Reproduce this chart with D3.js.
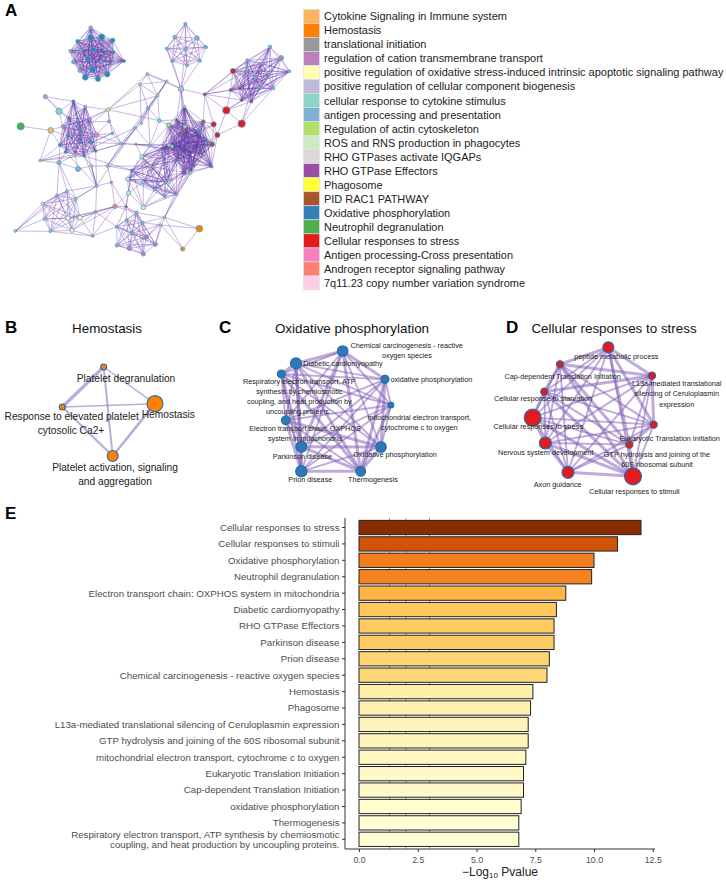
<!DOCTYPE html>
<html><head><meta charset="utf-8">
<script src="https://cdn.jsdelivr.net/npm/d3@7"></script>
<style>html,body{margin:0;padding:0;background:#fff}svg{display:block}text{font-family:"Liberation Sans",Arial,sans-serif}</style>
</head><body><svg id="c" width="726" height="882"><defs><filter id="soft" x="-5%" y="-5%" width="110%" height="110%"><feGaussianBlur stdDeviation="0.35"/></filter></defs></svg>
<script>
// ---- Legend
const legendNames=["Cytokine Signaling in Immune system","Hemostasis","translational initiation","regulation of cation transmembrane transport","positive regulation of oxidative stress-induced intrinsic apoptotic signaling pathway","positive regulation of cellular component biogenesis","cellular response to cytokine stimulus","antigen processing and presentation","Regulation of actin cytoskeleton","ROS and RNS production in phagocytes","RHO GTPases activate IQGAPs","RHO GTPase Effectors","Phagosome","PID RAC1 PATHWAY","Oxidative phosphorylation","Neutrophil degranulation","Cellular responses to stress","Antigen processing-Cross presentation","Androgen receptor signaling pathway","7q11.23 copy number variation syndrome"];
const legendColors=["#fdb462","#ff7f00","#999999","#bc80bd","#ffffb3","#bebada","#8dd3c7","#80b1d3","#b3de69","#ccebc5","#d9d9d9","#984ea3","#ffff33","#a65628","#377eb8","#4daf4a","#e41a1c","#f781bf","#fb8072","#fccde5"];
// ---- Panel A network layout [x,y,radius,legend index]
const gTopLeft=[[272,83,1.8,7],[272,113,3,14],[305,111,3,14],[338,121,2.2,14],[233,124,1.8,14],[211,153,1.5,7],[243,151,1.5,7],[279,148,2.4,14],[314,148,1.5,7],[340,157,1.5,14],[220,186,1.8,7],[264,177,2.4,14],[304,183,1.5,7],[338,189,1.5,6],[372,183,1.5,14],[239,212,1.8,7],[278,209,3,14],[322,223,2.6,14],[294,237,2.5,14],[256,232,2.8,14]];
const gTopMid=[[556,72,1.6,7],[524,111,1.8,7],[591,114,2.2,7],[500,146,1.5,7],[556,148,1.6,7],[618,141,1.6,7],[517,183,1.5,7],[600,182,1.5,7],[561,196,1.5,7]];
const gTopRight=[[810,141,1.8,7],[843,174,2.5,2],[868,214,1.5,7],[742,181,1.6,7],[785,190,1.5,7],[740,213,1.5,7],[808,224,1.5,7],[765,232,1.5,7],[699,213,2.6,16],[720,265,1.6,16],[692,270,1.6,16],[725,300,1.5,16],[754,304,1.6,16],[782,263,1.4,7],[820,265,1.5,7],[748,290,1.3,7]];
const gLeft=[[220,304,1.5,14],[256,320,1.5,7],[207,355,1.8,11],[270,357,1.5,17],[188,379,1.5,17],[237,367,1.5,14],[290,405,2.4,17],[204,408,1.6,14],[243,395,1.5,14],[180,435,1.6,14],[240,427,1.5,14],[275,427,1.5,14],[197,456,1.4,14],[225,464,1.4,0],[253,468,1.4,14],[287,453,1.4,14]];
const gMidRight=[[553,320,1.4,8],[530,360,1.6,13],[506,375,2.2,8],[555,380,1.8,8],[610,365,1.8,13],[548,393,1.9,13],[596,393,1.6,14],[636,433,2.5,13],[568,441,2.8,11],[507,435,1.6,8],[516,439,1.6,8],[484,446,1.2,13],[608,441,1.5,13],[587,458,1.2,13],[613,462,1.3,8],[530,480,1.3,13],[578,494,2.6,11],[552,517,2.6,11],[572,518,1.6,8],[635,500,1.3,14],[600,400,1.4,14],[560,420,1.5,11],[620,420,1.3,14],[540,455,1.2,14]];
const gCentre=[[425,470,2,9],[451,499,1.4,8],[395,511,1.4,14],[383,537,2,9],[430,546,1.5,6],[464,568,1.4,7],[497,545,1.6,7],[508,545,1.4,9],[495,590,1.4,7],[529,583,1.4,7],[493,465,1.3,7]];
const gLowLeft=[[201,573,1.4,6],[171,586,1.4,7],[128,611,1.5,9],[228,596,1.4,8],[133,657,1.5,6],[204,654,2.3,4],[240,653,2.3,4],[151,694,1.4,6],[216,691,2.1,4]];
const gLowMid=[[410,638,1.6,7],[380,660,1.5,7],[350,680,1.4,7],[395,700,1.7,7],[428,668,1.5,7],[439,711,2.2,3],[466,733,2.1,3],[388,745,2.2,3],[351,736,1.8,7],[430,762,2.1,3]];
const gFree=[[543,267,2.7,5],[614,283,1.5,16],[442,222,1.4,8],[500,244,1.4,8],[420,253,1.4,8],[473,287,1.4,8],[324,329,1.8,12],[444,324,1.6,7],[327,364,1.4,7],[337,400,1.4,7],[405,384,1.4,6],[424,370,1.3,8],[478,362,1.9,6],[364,431,1.4,6],[408,433,1.2,1],[450,436,1.4,6],[136,290,2.1,17],[177,334,3.2,6],[62,379,3.6,15],[152,391,2.8,0],[120,482,1.3,8],[177,488,2.1,7],[234,507,2.5,7],[274,498,1.4,8],[322,498,1.4,8],[290,558,1.4,7],[334,547,1.3,18],[679,331,3.7,16],[725,371,3.7,16],[641,373,2.6,16],[652,405,2.6,16],[598,686,3.3,1],[548,747,2.1,1],[386,579,2.1,9],[430,622,2.3,9],[345,619,2.2,18],[378,620,1.3,13],[287,636,1.4,18],[278,708,1.3,18],[494,652,1.3,8],[482,675,1.3,8],[46,693,1.4,6]];
const networkGroups={a:gTopLeft,b:gTopMid,c:gTopRight,d:gLeft,e:gMidRight,g:gCentre,h:gLowLeft,i:gLowMid,f:gFree};
const clusterKeys=["a","b","c","d","e","g","h","i"];
const bridges="f0-f1 f0-f3 f0-f2 f0-b3 f0-b4 f0-b6 f0-b7 f0-b8 f0-e0 f0-e1 f0-e3 f0-e5 f1-c8 f1-c9 f1-c10 f1-c3 f1-c5 f1-c11 f1-f27 f1-f29 f1-e4 f27-f28 f27-c11 f27-c10 f27-c15 f27-c12 f28-c12 f28-c15 f28-c14 f28-f30 f27-f30 f29-f30 f29-e4 f29-e6 f29-e7 f30-e7 f30-e12 f30-e4 f29-e20 f30-e19 f2-f3 f2-f4 f2-f5 f2-f6 f3-f4 f3-f5 f3-f10 f3-f13 f3-f25 f4-f5 f4-f7 f4-f11 f5-f7 f5-f11 f6-f4 f6-f5 f6-f8 f6-f9 f6-f12 f6-d1 f6-d3 f6-d5 f6-d8 f7-f11 f7-f15 f7-f12 f12-f15 f12-e2 f12-e1 f12-f5 f15-e9 f15-e11 f15-f14 f13-f14 f13-f15 f13-d6 f13-d11 f13-d15 f13-f8 f13-f9 f13-f24 f14-e9 f14-e11 f14-g0 f15-g0 f15-g10 f10-f21 f10-f15 f10-f24 f11-f13 f8-d6 f9-d6 f9-d11 f16-d0 f16-f17 f16-d2 f17-d0 f17-d2 f17-d4 f18-f19 f19-d4 f19-d7 f19-d9 f19-f20 f20-f21 f20-d9 f20-d12 f20-d13 f20-d14 f21-d9 f21-d12 f21-f22 f21-h0 f21-h1 f21-h3 f22-d13 f22-f23 f23-d14 f23-f24 f23-f25 f24-g1 f24-g2 f24-f10 f25-d0 f25-d15 f25-d14 f25-d12 f25-f26 f25-h0 f25-h3 f25-f23 f26-f35 f26-f36 f26-f24 f25-f37 f33-g2 f33-g4 f33-f34 f33-f36 f33-f35 f33-g3 f34-g2 f34-g4 f34-g5 f34-g6 f34-g8 f34-g9 f34-g3 f35-f36 f35-f37 f35-h5 f35-h6 f35-h8 f35-f38 f36-i0 f36-i1 f36-i2 f37-f38 f37-h5 f37-h6 f37-h8 f37-i2 f38-h6 f38-h8 f38-h7 f38-i2 f41-h2 f41-h4 f41-h7 f41-h1 f41-h0 f39-i0 f39-i4 f39-i5 f39-i6 f40-i4 f40-i5 f40-i6 f40-i3 f39-f31 f40-f31 f31-f32 f32-f39 f32-f40 f39-g9 f39-e17 f39-e18 f36-g2 g0-e9 g0-e11 g0-e15 g1-e9 g1-e15 g1-e5 g6-e15 g6-e17 g6-e11 g7-e17 g7-e18 g9-e17 g9-e18 g4-e11 g10-e2 g10-e9 g10-e11 g10-e23 g10-e15 g5-e17 g6-e23 g3-e11 g2-e9 f36-i4 f35-i0 d15-f13 d11-f9 d5-f8 d14-g2 h3-f25 g0-e2 g0-e5 g0-e8 g0-e21 g1-e8 g1-e21 g1-e17 g1-e23 g2-e11 g2-e15 g3-e9 g3-e15 g4-e9 g4-e15 g4-e17 g5-e15 g5-e9 g6-e9 g6-e8 g6-e21 g7-e15 g7-e9 g7-e11 g8-e17 g9-e15 g9-e16 g10-e8 g10-e21 g10-e5 g4-e23 g5-e23 g8-e18".split(" ");
// ---- Panels B, C, D: layout units are crop pixels
const hemoNodes=[[311,171,3,""],[465,281,8,""],[187,291,3,""],[338,438,5.5,""]];
const hemoEdges=[[0,1,1.5],[0,2,3.4],[0,3,2],[1,2,1.5],[1,3,2.6],[2,3,2.2]];
const hemoLabels=[["Platelet degranulation",378,217],["Hemostasis",505,324],["Response to elevated platelet",215,329],["cytosolic Ca2+",213,373],["Platelet activation, signaling",345,482],["and aggregation",345,526]];
const oxNodes=[[368,123,5.3],[228,160,5.5],[184,192,4],[495,208,4],[513,285,2.8],[197,331,4.3],[244,410,5.5],[483,411,5.3],[244,484,5.7],[422,484,4.9]];
const oxHeavy=[[0,1],[0,3],[1,2],[1,6],[1,8],[2,6],[5,8],[6,8],[6,9],[0,6],[0,9],[3,7],[3,9],[4,9],[5,7],[6,7],[7,9],[8,9],[2,9],[1,9]];
const oxLabels=[["Chemical carcinogenesis - reactive",560,115],["oxygen species",561,145],["Diabetic cardiomyopathy",369,168],["oxidative phosphorylation",634,215],["Respiratory electron transport, ATP",238,222],["synthesis by chemiosmotic",238,252],["coupling, and heat production by",238,282],["uncoupling proteins.",235,312],["mitochondrial electron transport,",598,329],["cytochrome c to oxygen",598,359],["Electron transport chain: OXPHOS",255,362],["system in mitochondria",255,392],["Parkinson disease",247,447],["Oxidative phosphorylation",525,441],["Prion disease",271,517],["Thermogenesis",459,517]];
const stressNodes=[[385,112,5.5],[240,163,3.6],[516,197,3.6],[193,245,3.6],[158,323,8.5],[521,344,3.6],[448,404,3.6],[196,399,6],[264,487,6],[459,499,8.5]];
const stressHeavy=[[0,1],[0,2],[1,3],[1,2],[3,4],[4,7],[7,8],[8,9],[0,5],[0,6],[1,9],[2,5],[5,6],[6,9],[3,9],[4,9],[7,9],[1,6],[2,3]];
const stressLabels=[["peptide metabolic process",409,147],["Cap-dependent Translation Initiation",248,207],["L13a-mediated translational",590,229],["silencing of Ceruloplasmin",590,259],["expression",590,291],["Cellular response to starvation",189,273],["Cellular responses to stress",175,356],["Eukaryotic Translation Initiation",569,393],["Nervous system development",197,436],["GTP hydrolysis and joining of the",531,442],["60S ribosomal subunit",531,472],["Axon guidance",233,532],["Cellular responses to stimuli",463,551]];
// ---- Panel E
const pathwayNames=["Cellular responses to stress","Cellular responses to stimuli","Oxidative phosphorylation","Neutrophil degranulation","Electron transport chain: OXPHOS system in mitochondria","Diabetic cardiomyopathy","RHO GTPase Effectors","Parkinson disease","Prion disease","Chemical carcinogenesis - reactive oxygen species","Hemostasis","Phagosome","L13a-mediated translational silencing of Ceruloplasmin expression","GTP hydrolysis and joining of the 60S ribosomal subunit","mitochondrial electron transport, cytochrome c to oxygen","Eukaryotic Translation Initiation","Cap-dependent Translation Initiation","oxidative phosphorylation","Thermogenesis","Respiratory electron transport, ATP synthesis by chemiosmotic|coupling, and heat production by uncoupling proteins."];
const pathwayValues=[12,11,10,9.9,8.8,8.4,8.3,8.3,8.1,8.0,7.4,7.3,7.2,7.2,7.1,7.0,7.0,6.9,6.8,6.8];
const xTicks=[0,2.5,5,7.5,10,12.5];
const refLines=[1.3,2,3];
const colourStops=[6.8,7.4,8.0,8.4,8.8,10,11,12];
const colourRange=["#ffffd6","#feeeaa","#fed678","#fec85c","#feb546","#f47d20","#d25307","#8a2c02"];

const svg=d3.select("#c");
const FONT_LEG=10.97;
// panel letters & titles
[["A",5,16],["B",5,333],["C",219,333],["D",506,333],["E",5,519]].forEach(([t,x,y])=>svg.append("text").attr("x",x).attr("y",y).attr("font-size",17).attr("font-weight","bold").text(t));
[["Hemostasis",107,333],["Oxidative phosphorylation",352,333],["Cellular responses to stress",614,333]].forEach(([t,x,y])=>svg.append("text").attr("x",x).attr("y",y).attr("text-anchor","middle").attr("font-size",13.4).attr("fill","#111").text(t));

// Panel A
const ax=d3.scaleLinear().domain([0,900]).range([0,300]), ay=d3.scaleLinear().domain([0,900]).range([0,300]);
const gA=svg.append("g").attr("filter","url(#soft)");
const getNode=s=>networkGroups[s[0]][+s.slice(1)];
const edgesA=[];
clusterKeys.forEach(k=>{const n=networkGroups[k];n.forEach((p,i)=>n.slice(i+1).forEach(q=>edgesA.push([p,q])));});
bridges.forEach(b=>{const [s,t]=b.split("-");edgesA.push([getNode(s),getNode(t)]);});
gA.selectAll("line").data(edgesA).join("line").attr("x1",d=>ax(d[0][0])).attr("y1",d=>ay(d[0][1])).attr("x2",d=>ax(d[1][0])).attr("y2",d=>ay(d[1][1])).attr("stroke","#6236a6").attr("stroke-opacity",.42).attr("stroke-width",.85);
const allA=Object.values(networkGroups).flat();
gA.selectAll("circle").data(allA).join("circle").attr("cx",d=>ax(d[0])).attr("cy",d=>ay(d[1])).attr("r",d=>d[2]).attr("fill",d=>legendColors[d[3]]).attr("stroke","#5b9dc0").attr("stroke-width",.8);

// Legend
const ly=d3.scaleBand().domain(legendNames).range([9.3,290]);
const lg=svg.append("g").selectAll("g").data(legendNames).join("g");
lg.append("rect").attr("x",303.5).attr("y",d=>ly(d)).attr("width",16).attr("height",ly.bandwidth()).attr("fill",(d,i)=>legendColors[i]).attr("stroke","#e2e2e2").attr("stroke-width",.6);
lg.append("text").attr("x",324).attr("y",d=>ly(d)+ly.bandwidth()/2+4).attr("font-size",FONT_LEG).attr("fill","#222").text(d=>d);

// Sub-networks
function subNet(nodes,edges,labels,ox,oy,fill,lsize){
  const x=d3.scaleLinear().domain([0,3]).range([ox,ox+1]), y=d3.scaleLinear().domain([0,3]).range([oy,oy+1]);
  const g=svg.append("g");
  g.selectAll("line").data(edges).join("line").attr("x1",d=>x(nodes[d[0]][0])).attr("y1",d=>y(nodes[d[0]][1])).attr("x2",d=>x(nodes[d[1]][0])).attr("y2",d=>y(nodes[d[1]][1])).attr("stroke","#7e57b5").attr("stroke-opacity",.5).attr("stroke-width",d=>d[2]);
  g.selectAll("circle").data(nodes).join("circle").attr("cx",d=>x(d[0])).attr("cy",d=>y(d[1])).attr("r",d=>d[2]).attr("fill",fill).attr("stroke","#1f6da8").attr("stroke-width",1.1);
  g.selectAll("text").data(labels).join("text").attr("x",d=>x(d[1])).attr("y",d=>y(d[2])).attr("text-anchor","middle").attr("font-size",lsize).attr("fill","#222").text(d=>d[0]);
}
function fullEdges(nodes,heavy){
  const e=[];
  nodes.forEach((_,i)=>nodes.forEach((_,j)=>{if(j>i){const h=heavy.some(p=>(p[0]==i&&p[1]==j));e.push([i,j,h?3:1.9]);}}));
  return e;
}
subNet(hemoNodes,hemoEdges,hemoLabels,0,310,"#ff7f00",10.2);
subNet(oxNodes,fullEdges(oxNodes,oxHeavy),oxLabels,220,310,"#2f78b5",7.25);
subNet(stressNodes,fullEdges(stressNodes,stressHeavy),stressLabels,480,310,"#e41a1c",7.25);

// Panel E
const x=d3.scaleLinear().domain([0,12.5]).range([359,652.75]);
const y=d3.scaleBand().domain(pathwayNames).range([519.3,847.5]).paddingInner(.13).paddingOuter(.065);
const col=d3.scaleLinear().domain(colourStops).range(colourRange);
const gE=svg.append("g");
gE.selectAll("line.ref").data(refLines).join("line").attr("class","ref").attr("x1",d=>x(d)).attr("x2",d=>x(d)).attr("y1",518).attr("y2",849).attr("stroke","#999").attr("stroke-width",1);
gE.selectAll("rect").data(pathwayNames).join("rect").attr("x",x(0)).attr("y",d=>y(d)).attr("width",(d,i)=>x(pathwayValues[i])-x(0)).attr("height",y.bandwidth()).attr("fill",(d,i)=>col(pathwayValues[i])).attr("stroke","#222").attr("stroke-width",1);
const xAxis=d3.axisBottom(x).tickValues(xTicks).tickFormat(d3.format(".1f")).tickSize(3);
const gx=gE.append("g").attr("transform","translate(0,849)").call(xAxis);
gx.select(".domain").attr("d","M345,0H655").attr("stroke","#333").attr("stroke-width",1);
gx.selectAll(".tick line").attr("stroke","#333");
gx.selectAll("text").attr("font-size",8.8).attr("fill","#4d4d4d").attr("font-family",'"Liberation Sans"').attr("dy","0.95em");
gE.append("line").attr("x1",345).attr("x2",345).attr("y1",518).attr("y2",849).attr("stroke","#333").attr("stroke-width",1);
const yt=gE.append("g").selectAll("g").data(pathwayNames).join("g");
yt.append("line").attr("x1",342).attr("x2",345).attr("y1",d=>y(d)+y.bandwidth()/2).attr("y2",d=>y(d)+y.bandwidth()/2).attr("stroke","#333");
yt.each(function(d){
  const parts=d.split("|"),me=d3.select(this),cy=y(d)+y.bandwidth()/2;
  parts.forEach((t,i)=>me.append("text").attr("x",339.5).attr("y",cy+3.4+(i-(parts.length-1)/2)*10.2).attr("text-anchor","end").attr("font-size",9.7).attr("fill","#4d4d4d").text(t));
});
const title=gE.append("text").attr("x",500).attr("y",876).attr("text-anchor","middle").attr("font-size",12).attr("fill","#222");
title.append("tspan").text("\u2212Log");
title.append("tspan").attr("font-size",8).attr("dy",2).text("10");
title.append("tspan").attr("dy",-2).text(" Pvalue");
</script></body></html>
